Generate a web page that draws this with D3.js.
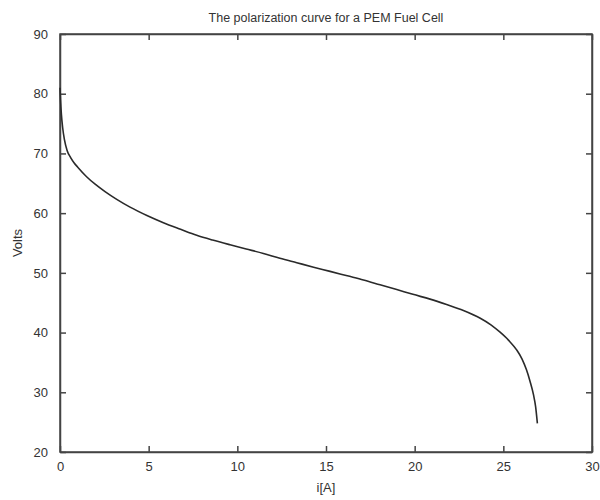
<!DOCTYPE html>
<html>
<head>
<meta charset="utf-8">
<script src="https://cdn.jsdelivr.net/npm/d3@7"></script>
<style>
    body { margin: 0; background: #fff; }
    text { font-family: "Liberation Sans", Arial, sans-serif; fill: #333; }
</style>
</head>
<body>
<svg id="chart" width="600" height="500"></svg>
<script>
// proud [A] a napeti [V]
const current = [0, 0.03, 0.08, 0.15, 0.25, 0.4, 0.6, 0.8, 1.0, 1.5, 2.0, 2.54, 3.2, 3.95, 4.9,
    5.83, 6.8, 7.71, 8.6, 9.59, 10.5, 11.47, 12.4, 13.35, 14.3, 15.23, 16.2, 17.11, 18.05,
    18.99, 19.9, 20.87, 21.8, 22.75, 23.7, 24.3, 24.8, 25.3, 25.75, 26.05, 26.3, 26.5, 26.7,
    26.82, 26.92];
const voltage = [81, 79, 76.5, 74.3, 72.3, 70.5, 69.3, 68.4, 67.7, 66.1, 64.8, 63.6, 62.3, 61.0, 59.6,
    58.4, 57.3, 56.3, 55.5, 54.7, 54.0, 53.25, 52.45, 51.7, 50.95, 50.25, 49.5, 48.8, 48.0,
    47.2, 46.4, 45.6, 44.7, 43.7, 42.4, 41.3, 40.1, 38.7, 37.1, 35.6, 33.8, 31.9, 29.6,
    27.6, 24.8];
const xTicks = [0, 5, 10, 15, 20, 25, 30];
const yTicks = [20, 30, 40, 50, 60, 70, 80, 90];

const svg = d3.select("#chart");
// okraje oblasti grafu
const mLeft = 60, mRight = 592, mTop = 34, mBottom = 452;

const x = d3.scaleLinear().domain([0, 30]).range([mLeft, mRight]);
const y = d3.scaleLinear().domain([20, 90]).range([mBottom, mTop]);

// osy ve stylu matlabu - tiky dovnitr na vsech stranach
svg.append("g").attr("transform", `translate(0,${mBottom})`)
    .call(d3.axisBottom(x).tickValues(xTicks).tickSizeInner(-6).tickSizeOuter(0).tickPadding(10));
svg.append("g").attr("transform", `translate(0,${mTop})`)
    .call(d3.axisTop(x).tickValues(xTicks).tickSizeInner(-6).tickSizeOuter(0).tickFormat(""));
svg.append("g").attr("transform", `translate(${mLeft},0)`)
    .call(d3.axisLeft(y).tickValues(yTicks).tickSizeInner(-6).tickSizeOuter(0).tickPadding(12));
svg.append("g").attr("transform", `translate(${mRight},0)`)
    .call(d3.axisRight(y).tickValues(yTicks).tickSizeInner(-6).tickSizeOuter(0).tickFormat(""));

svg.selectAll(".domain, .tick line").attr("stroke", "#444").attr("stroke-width", 1.5);
svg.selectAll(".tick text").style("font-size", "13px").attr("fill", "#333");

// ramecek
svg.append("rect")
    .attr("x", mLeft).attr("y", mTop)
    .attr("width", mRight - mLeft).attr("height", mBottom - mTop)
    .attr("fill", "none").attr("stroke", "#444").attr("stroke-width", 1.5);

const pts = current.map((c, i) => [c, voltage[i]]);
svg.append("path")
    .datum(pts)
    .attr("fill", "none")
    .attr("stroke", "#2a2a2a")
    .attr("stroke-width", 1.6)
    .attr("d", d3.line().x(d => x(d[0])).y(d => y(d[1])).curve(d3.curveMonotoneX));

svg.append("text")
    .attr("x", (mLeft + mRight) / 2).attr("y", 22)
    .attr("text-anchor", "middle").style("font-size", "12.5px")
    .text("The polarization curve for a PEM Fuel Cell");

svg.append("text")
    .attr("x", (mLeft + mRight) / 2).attr("y", 492)
    .attr("text-anchor", "middle").style("font-size", "13px")
    .text("i[A]");

svg.append("text")
    .attr("transform", `translate(22,${(mTop + mBottom) / 2}) rotate(-90)`)
    .attr("text-anchor", "middle").style("font-size", "13px")
    .text("Volts");
</script>
</body>
</html>
